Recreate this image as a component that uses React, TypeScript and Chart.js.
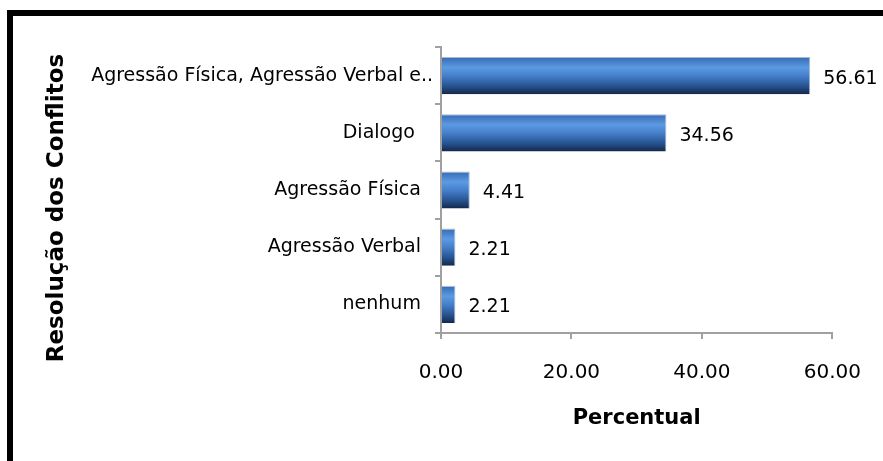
import React, { useEffect, useRef } from "react";
import { Chart, registerables } from "chart.js";

Chart.register(...registerables);

const categories = [
  "Agressão Física, Agressão Verbal e..",
  "Dialogo   ",
  "Agressão Física  ",
  "Agressão Verbal  ",
  "nenhum  ",
];
const values = [56.61, 34.56, 4.41, 2.21, 2.21];
const xTicks = [0, 20, 40, 60];
const yTitle = "Resolução dos Conflitos";
const xTitle = "Percentual";

const FONT = "'DejaVu Sans', Verdana, sans-serif";

export default function App() {
  const ref = useRef<HTMLCanvasElement | null>(null);

  useEffect(() => {
    const canvas = ref.current;
    if (!canvas) return;

    const barPct = 0.65;

    const gradientFor = (ctx: any) => {
      const chart = ctx.chart;
      const y = chart.scales?.y;
      if (!y || !chart.chartArea) return "#3d78c8";
      const cy = y.getPixelForValue(ctx.dataIndex);
      const band = (chart.chartArea.bottom - chart.chartArea.top) / categories.length;
      const h = band * barPct;
      const g = chart.ctx.createLinearGradient(0, cy - h / 2, 0, cy + h / 2);
      g.addColorStop(0, "#9fb6d6");
      g.addColorStop(0.04, "#3b70ba");
      g.addColorStop(0.28, "#5b9ae2");
      g.addColorStop(0.5, "#4680cc");
      g.addColorStop(0.8, "#25508c");
      g.addColorStop(1, "#13284a");
      return g;
    };

    const labelPlugin = {
      id: "valueLabels",
      afterDatasetsDraw(chart: any) {
        const c = chart.ctx;
        const meta = chart.getDatasetMeta(0);
        c.save();
        c.font = `19px ${FONT}`;
        c.fillStyle = "#000";
        c.textAlign = "left";
        c.textBaseline = "middle";
        meta.data.forEach((el: any, i: number) => {
          c.fillText(values[i].toFixed(2), el.x + 13, el.y + 3);
        });
        c.restore();
      },
    };

    const yTitlePlugin = {
      id: "yTitle",
      afterDraw(chart: any) {
        const c = chart.ctx;
        c.save();
        c.translate(57, 208);
        c.rotate(-Math.PI / 2);
        c.font = `bold 23px ${FONT}`;
        c.fillStyle = "#000";
        c.textAlign = "center";
        c.textBaseline = "middle";
        c.fillText(yTitle, 0, 0);
        c.restore();
      },
    };

    const chart = new Chart(canvas, {
      type: "bar",
      data: {
        labels: categories,
        datasets: [
          {
            data: values,
            backgroundColor: gradientFor,
            borderColor: "#a9b9cf",
            borderWidth: { top: 1, right: 1, bottom: 0, left: 0 },
            borderSkipped: false,
            categoryPercentage: 1,
            barPercentage: barPct,
          },
        ],
      },
      options: {
        indexAxis: "y",
        responsive: false,
        animation: false,
        layout: { padding: { top: 47, right: 50, bottom: 30, left: 0 } },
        plugins: {
          legend: { display: false },
          tooltip: { enabled: false },
        },
        scales: {
          x: {
            min: 0,
            max: 60,
            afterBuildTicks(scale: any) {
              scale.ticks = xTicks.map((v) => ({ value: v }));
            },
            afterFit(scale: any) {
              scale.height = 98;
            },
            ticks: {
              color: "#000",
              font: { family: FONT, size: 20 },
              padding: 22,
              callback: (v: any) => Number(v).toFixed(2),
            },
            grid: {
              drawOnChartArea: false,
              drawTicks: true,
              tickLength: 6,
              color: "#a0a0a0",
              lineWidth: 2,
            },
            border: { display: true, color: "#a0a0a0", width: 2 },
            title: {
              display: true,
              text: xTitle,
              color: "#000",
              font: { family: FONT, size: 21, weight: "bold" },
              padding: 0,
            },
          },
          y: {
            afterFit(scale: any) {
              scale.width = 441;
            },
            ticks: {
              color: "#000",
              font: { family: FONT, size: 19 },
              padding: 2,
            },
            grid: {
              drawOnChartArea: false,
              drawTicks: true,
              tickLength: 6,
              color: "#a0a0a0",
              lineWidth: 2,
              offset: true,
            },
            border: { display: true, color: "#a0a0a0", width: 2 },
          },
        },
      },
      plugins: [labelPlugin, yTitlePlugin],
    } as any);

    return () => chart.destroy();
  }, []);

  return (
    <div style={{ position: "absolute", left: 0, top: 0, width: 883, height: 461, background: "#fff" }}>
      <div
        style={{
          position: "absolute",
          left: 7,
          top: 10,
          width: 876,
          height: 451,
          borderTop: "6px solid #000",
          borderLeft: "6px solid #000",
          boxSizing: "border-box",
        }}
      />
      <canvas
        ref={ref}
        width={883}
        height={461}
        style={{ position: "absolute", left: 0, top: 0, width: 883, height: 461 }}
      />
    </div>
  );
}
